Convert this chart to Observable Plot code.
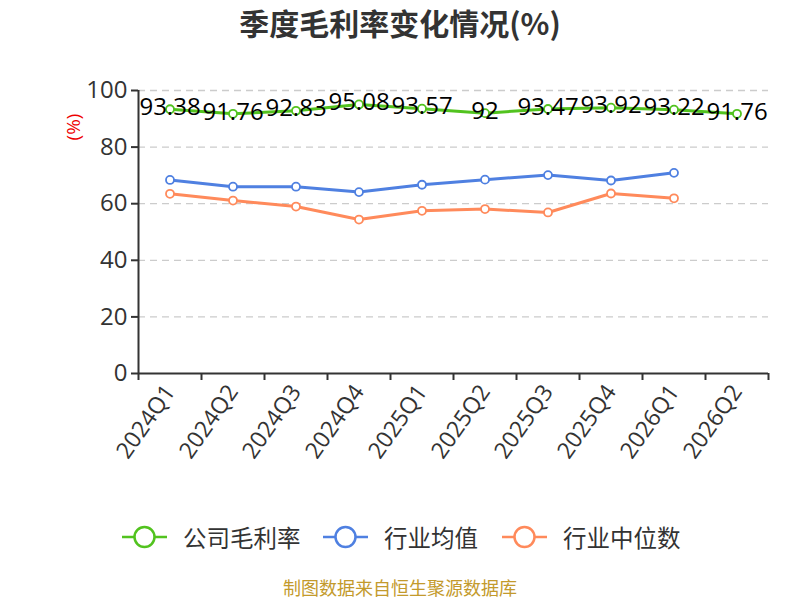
<!DOCTYPE html>
<html><head><meta charset="utf-8">
<script src="https://cdn.jsdelivr.net/npm/d3@7"></script>
<script src="https://cdn.jsdelivr.net/npm/@observablehq/plot@0.6"></script>
<style>
body{margin:0;background:#fff;font-family:"Open Sans","Noto Sans CJK SC",sans-serif;}
#wrap{position:relative;width:800px;height:600px;overflow:hidden;}
#title{position:absolute;top:2px;left:0;width:800px;text-align:center;font-size:30px;line-height:40px;font-weight:bold;color:#333;font-family:"Noto Sans CJK SC",sans-serif;}
#ylab{position:absolute;left:60px;top:116px;color:#e00;font-size:19px;line-height:22px;transform:rotate(-90deg);transform-origin:center;}
#legend{position:absolute;top:520px;left:0;width:800px;height:34px;}
.item{position:absolute;top:0;display:flex;align-items:center;height:34px;font-size:23.5px;color:#333;font-family:"Noto Sans CJK SC",sans-serif;}
.item svg{margin-right:16px;}
#caption{position:absolute;top:577px;left:0;width:800px;text-align:center;font-size:18px;line-height:21px;color:#c39a2c;font-family:"Noto Sans CJK SC",sans-serif;}
#chart{position:absolute;top:0;left:0;}
</style></head>
<body><div id="wrap">
<div id="chart"></div>
<div id="title">季度毛利率变化情况(%)</div>
<div id="ylab">(%)</div>
<div id="legend"></div>
<div id="caption">制图数据来自恒生聚源数据库</div>
</div>
<script>
const quarters = ["2024Q1","2024Q2","2024Q3","2024Q4","2025Q1","2025Q2","2025Q3","2025Q4","2026Q1","2026Q2"];
const companyMargin = [93.38,91.76,92.83,95.08,93.57,92,93.47,93.92,93.22,91.76];
const industryMean = [68.4,66.0,66.0,64.1,66.7,68.5,70.1,68.2,70.9];
const industryMedian = [63.5,61.1,59.0,54.4,57.5,58.1,56.9,63.6,61.9];
const seriesNames = ["公司毛利率","行业均值","行业中位数"];
const colors = ["#52c31f","#4f80e1","#ff8a5b"];
const yTicks = [0,20,40,60,80,100];

const mk = (vals) => vals.map((v,i)=>({i, v}));
const comp = mk(companyMargin), mean = mk(industryMean), med = mk(industryMedian);
const edges = d3.range(-0.5, quarters.length, 1);

const plot = Plot.plot({
  width: 800, height: 500,
  marginTop: 90, marginBottom: 127, marginLeft: 138, marginRight: 32,
  style: {fontFamily: '"Open Sans","Noto Sans CJK SC",sans-serif', background: "transparent"},
  x: {type: "linear", domain: [-0.5, quarters.length - 0.5]},
  y: {domain: [0, 100]},
  marks: [
    Plot.ruleY(yTicks.filter(d=>d>0), {stroke: "#ccc", strokeWidth: 1.3, strokeDasharray: "7,5"}),
    Plot.axisY({ticks: yTicks, tickSize: 7, tickPadding: 4, fontSize: 24, color: "#333", stroke:"#333", strokeWidth: 2, label: null}),
    Plot.ruleX([-0.5], {stroke: "#333", strokeWidth: 2}),
    Plot.ruleY([0], {stroke: "#333", strokeWidth: 2}),
    Plot.axisX({ticks: edges, tickSize: 7, tickFormat: () => "", stroke: "#333", strokeWidth: 2, label: null}),
    Plot.axisX({ticks: d3.range(quarters.length), tickSize: 0, tickFormat: i => quarters[i], tickRotate: -55, fontSize: 23, color: "#333", tickPadding: 14, label: null}),
    ...[comp, mean, med].flatMap((d, k) => [
      Plot.line(d, {x: "i", y: "v", stroke: colors[k], strokeWidth: 3}),
      Plot.dot(d, {x: "i", y: "v", r: 4, fill: "#fff", stroke: colors[k], strokeWidth: 1.8})
    ]),
    Plot.text(comp, {x: "i", y: "v", text: d => String(d.v), fontSize: 24, fill: "#000", dy: -2})
  ]
});
document.getElementById("chart").appendChild(plot);

const pos = [122,323,502];
const legend = document.getElementById("legend");
seriesNames.forEach((n,k)=>{
  const div = document.createElement("div");
  div.className = "item";
  div.style.left = pos[k] + "px";
  div.innerHTML = `<svg width="45" height="34"><line x1="0" x2="45" y1="17" y2="17" stroke="${colors[k]}" stroke-width="2.5"/><circle cx="22.5" cy="17" r="10" fill="#fff" stroke="${colors[k]}" stroke-width="2.5"/></svg><span>${n}</span>`;
  legend.appendChild(div);
});
</script>
</body></html>
